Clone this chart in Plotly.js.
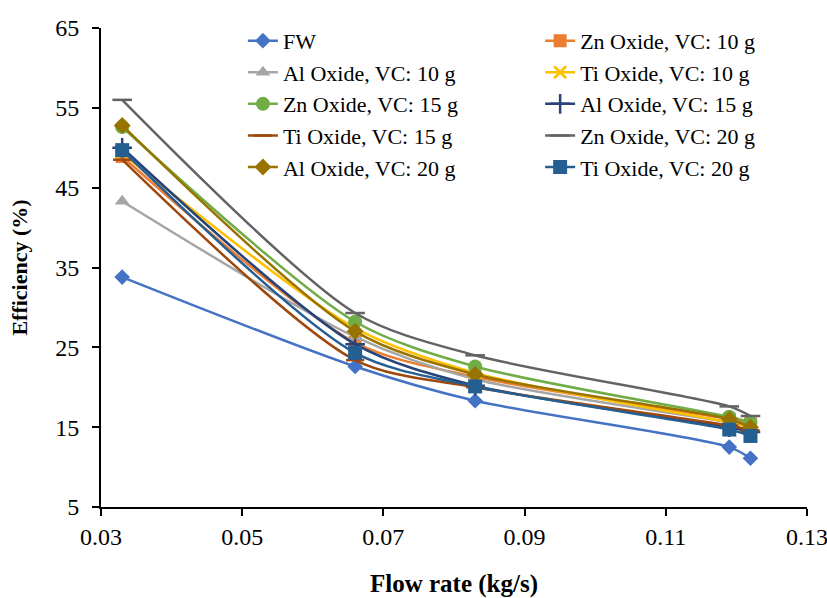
<!DOCTYPE html>
<html>
<head>
<meta charset="utf-8">
<script src="https://cdn.plot.ly/plotly-3.0.1.min.js"></script>
<style>html,body{margin:0;padding:0;background:#fff;}#chart{width:827px;height:598px;}</style>
</head>
<body>
<div id="chart"></div>
<script>
var flowRate = [0.033, 0.066, 0.083, 0.119, 0.122];
var seriesNames = ["FW", "Zn Oxide, VC: 10 g", "Al Oxide, VC: 10 g", "Ti Oxide, VC: 10 g",
  "Zn Oxide, VC: 15 g", "Al Oxide, VC: 15 g", "Ti Oxide, VC: 15 g", "Zn Oxide, VC: 20 g",
  "Al Oxide, VC: 20 g", "Ti Oxide, VC: 20 g"];
var fw      = [33.8, 22.6, 18.3, 12.5, 11.1];
var zn10    = [48.9, 25.6, 21.3, 16.0, 15.4];
var al10    = [43.3, 26.3, 21.0, 15.6, 15.0];
var ti10    = [49.3, 27.4, 21.8, 15.6, 15.0];
var zn15    = [52.6, 28.2, 22.6, 16.3, 15.6];
var al15    = [50.0, 25.4, 20.2, 15.0, 14.4];
var ti15    = [48.5, 23.4, 20.0, 15.2, 14.6];
var zn20    = [56.0, 29.3, 24.0, 17.6, 16.4];
var al20    = [52.8, 27.0, 21.6, 16.0, 15.0];
var ti20    = [49.7, 24.3, 20.1, 14.7, 13.9];
var xTicks = [0.03, 0.05, 0.07, 0.09, 0.11, 0.13];
var xTickText = ["0.03", "0.05", "0.07", "0.09", "0.11", "0.13"];

var seriesValues = [fw, zn10, al10, ti10, zn15, al15, ti15, zn20, al20, ti20];
var colors = ["#4472C4", "#ED7D31", "#A5A5A5", "#FFC000", "#70AD47", "#264478", "#9E480E", "#636363", "#997300", "#255E91"];
var symbols = ["diamond", "square", "triangle-up", "x-thin-open", "circle", "cross-thin-open", "line-ew-open", "line-ew-open", "diamond", "square"];
var sizes = [12, 13, 13, 12, 14, 14, 13, 14, 13, 14];

var traces = seriesValues.map(function(vals, i) {
  var sym = symbols[i];
  var thin = sym.indexOf("open") >= 0;
  return {
    x: flowRate, y: vals, name: seriesNames[i], type: "scatter", mode: "lines+markers",
    legend: (i % 2 === 0) ? "legend" : "legend2",
    line: {color: colors[i], width: 2.5, shape: "spline", smoothing: 0.8},
    marker: {symbol: sym, size: sizes[i], color: colors[i],
      line: {color: colors[i], width: thin ? 2.5 : 0}}
  };
});

var fontFam = "Liberation Serif, DejaVu Serif, serif";
var legFont = {family: fontFam, size: 22, color: "#000"};
var layout = {
  width: 827, height: 598,
  margin: {l: 101, r: 20, t: 28, b: 91},
  paper_bgcolor: "#fff", plot_bgcolor: "#fff",
  font: {family: fontFam, color: "#000", size: 22},
  showlegend: true,
  legend: {orientation: "v", x: 0.201, xanchor: "left", y: 1.017, yanchor: "top",
    font: legFont, bgcolor: "rgba(0,0,0,0)", traceorder: "normal"},
  legend2: {orientation: "v", x: 0.622, xanchor: "left", y: 1.017, yanchor: "top",
    font: legFont, bgcolor: "rgba(0,0,0,0)", traceorder: "normal"},
  xaxis: {range: [0.03, 0.13001], tickvals: xTicks, ticktext: xTickText,
    showgrid: false, zeroline: false, showline: true, linecolor: "#000", linewidth: 2,
    ticks: "outside", ticklen: 7, tickwidth: 2, tickcolor: "#000",
    ticklabelstandoff: 0, ticklabeloverflow: "allow",
    tickfont: {family: fontFam, size: 24, color: "#000"},
    title: {text: "<b>Flow rate (kg/s)</b>", font: {family: fontFam, size: 25, color: "#000"}, standoff: 26}},
  yaxis: {range: [5, 65], dtick: 10, tick0: 5,
    showgrid: false, zeroline: false, showline: true, linecolor: "#000", linewidth: 2,
    ticks: "outside", ticklen: 7, tickwidth: 2, tickcolor: "#000",
    ticklabelstandoff: 8,
    tickfont: {family: fontFam, size: 24, color: "#000"},
    title: {text: "<b>Efficiency (%)</b>", font: {family: fontFam, size: 22, color: "#000"}, standoff: 22}}
};

Plotly.newPlot("chart", traces, layout, {displayModeBar: false, staticPlot: true});
</script>
</body>
</html>
